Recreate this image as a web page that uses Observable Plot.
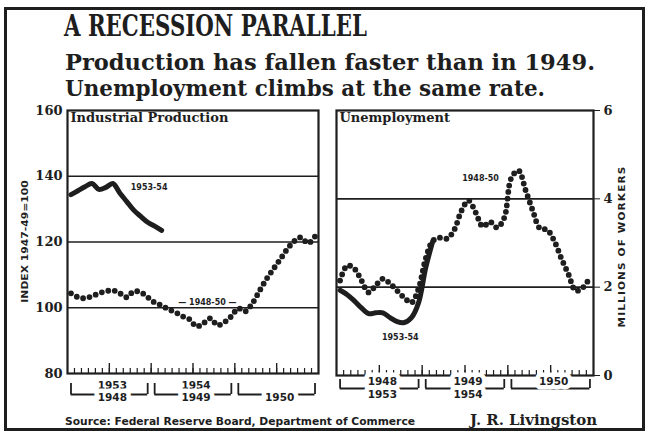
<!DOCTYPE html>
<html><head><meta charset="utf-8">
<script src="https://cdn.jsdelivr.net/npm/d3@7"></script>
<script src="https://cdn.jsdelivr.net/npm/@observablehq/plot@0.6"></script>
<style>
html,body{margin:0;padding:0;background:#fff;}
#wrap{position:relative;width:648px;height:435px;overflow:hidden;background:#fff;color:#1e1e1e;font-family:"DejaVu Serif",serif;}
.abs{position:absolute;white-space:nowrap;line-height:1;transform-origin:0 0;}
#border{position:absolute;left:4px;top:7px;width:641px;height:424px;border:3px solid #1e1e1e;box-sizing:border-box;}
.panel{position:absolute;top:95px;}
</style></head>
<body><div id="wrap">
<div id="border"></div>
<div class="abs" id="title" style="left:64px;top:11px;font-size:30px;font-weight:bold;">A RECESSION PARALLEL</div>
<div class="abs" id="sub1" style="left:65px;top:51px;font-size:22px;font-weight:bold;">Production has fallen faster than in 1949.</div>
<div class="abs" id="sub2" style="left:65px;top:77px;font-size:22px;font-weight:bold;">Unemployment climbs at the same rate.</div>
<div class="panel" id="left" style="left:0px;"></div>
<div class="panel" id="right" style="left:320px;"></div>
<div class="abs" id="ylabL" style="font-family:'DejaVu Sans',sans-serif;font-size:9px;font-weight:bold;">INDEX 1947-49=100</div>
<div class="abs" id="ylabR" style="font-family:'DejaVu Sans',sans-serif;font-size:9px;font-weight:bold;letter-spacing:1px;">MILLIONS OF WORKERS</div>
<div class="abs" id="src" style="left:65px;top:417px;font-family:'DejaVu Sans',sans-serif;font-size:10px;font-weight:bold;">Source: Federal Reserve Board, Department of Commerce</div>
<div class="abs" id="auth" style="left:470px;top:413px;font-size:14px;font-weight:bold;">J. R. Livingston</div>
</div>
<script>
// ---- data ----
const yearIdx = [0, 1, 2];
const prodTopLabels = ["1953", "1954", ""];
const prodBottomLabels = ["1948", "1949", "1950"];
const unempTopLabels = ["1948", "1949", "1950"];
const unempBottomLabels = ["1953", "1954", ""];
const prodTicks = [80, 100, 120, 140, 160];
const prodGrid = [100, 120, 140];
const unempTicks = [0, 2, 4, 6];
const unempGrid = [2, 4];
// Industrial production index, 1947-49=100 (monthly)
const prod5354 = [134.4, 135.6, 136.8, 137.8, 136.0, 136.6, 137.8, 134.9, 132.3, 129.7, 127.8, 126.0, 124.8, 123.5];
const prod4850 = [104.4, 103.2, 102.9, 103.5, 104.4, 105.0, 105.3, 104.4, 103.2, 105.0, 104.7, 103.2,
                  101.6, 100.7, 99.5, 98.6, 97.4, 96.5, 94.3, 95.3, 96.8, 94.7, 95.6, 97.4,
                  99.8, 98.9, 101.3, 105.0, 108.6, 111.7, 114.7, 117.8, 120.2, 121.4, 119.6, 121.7];
// Unemployment, millions of workers (monthly)
const unemp5354 = [1.93, 1.83, 1.69, 1.53, 1.40, 1.42, 1.42, 1.31, 1.22, 1.20, 1.31, 1.65, 2.44, 3.05];
const unemp4850 = [2.15, 2.49, 2.42, 2.15, 1.88, 2.04, 2.19, 2.08, 1.92, 1.76, 1.65, 1.97,
                   2.65, 3.05, 3.12, 3.10, 3.30, 3.73, 3.96, 3.69, 3.37, 3.48, 3.35, 3.57,
                   4.48, 4.64, 4.19, 3.73, 3.33, 3.30, 3.05, 2.65, 2.29, 1.92, 1.99, 2.22];

const ink = "#1e1e1e";
const toPts = arr => arr.map((v, i) => ({m: i + 0.5, v}));
const minorTicks = d3.range(1, 36);
const majorTicks = [6, 12, 18, 24, 30];
const bracketEnds = yearIdx.flatMap(i => [12 * i + 0.5, 12 * i + 11.5]);
const yearFont = {fontFamily: "DejaVu Sans, sans-serif", fontSize: 10.5, fontWeight: "bold"};

function yearLabels(labels, dy, dx) {
  const idx = yearIdx.filter(i => labels[i]);
  const base = {x: d => 12 * d + 6, frameAnchor: "bottom", text: d => labels[d], dy, dx, ...yearFont};
  return [
    Plot.text(idx, {...base, fill: "white", stroke: "white", strokeWidth: 9}),
    Plot.text(idx, {...base, fill: ink})
  ];
}

function panel(opts) {
  const {width, height, mt, mb, ml, mr, domain, ticks, grid, axis, tickSize, tickPadding,
         s5354, s4850, title, topLabels, bottomLabels, lab1, lab2, yTop, yBot, yBr, brTop, dxLab} = opts;
  const plotH = height - mt - mb;
  const d1 = toPts(s5354), d2 = toPts(s4850);
  return Plot.plot({
    width, height, marginTop: mt, marginBottom: mb, marginLeft: ml, marginRight: mr,
    style: {background: "transparent", color: ink, fontFamily: "DejaVu Serif, serif", fontSize: "13px", fontWeight: "bold", overflow: "visible"},
    x: {domain: [0, 36], axis: null},
    y: {domain, ticks, axis, tickSize, tickPadding, tickFormat: d => String(d), label: null},
    marks: [
      Plot.ruleY(grid, {stroke: ink, strokeWidth: 1.6}),
      Plot.tickX(minorTicks, {x: d => d, stroke: ink, strokeWidth: 1.2, insetTop: plotH - 5}),
      Plot.tickX(majorTicks, {x: d => d, stroke: ink, strokeWidth: 1.4, insetTop: plotH - 10}),
      Plot.line(d2, {x: "m", y: "v", curve: "catmull-rom", stroke: ink, strokeWidth: 5.8, strokeDasharray: "0 6.6", strokeLinecap: "round"}),
      Plot.line(d1, {x: "m", y: "v", curve: "catmull-rom", stroke: ink, strokeWidth: 5, strokeLinecap: "round", strokeLinejoin: "round"}),
      Plot.frame({stroke: ink, strokeWidth: 2.2}),
      Plot.text([title], {frameAnchor: "top-left", dx: 3, dy: 2, lineAnchor: "top", textAnchor: "start", fontSize: 13, fontWeight: "bold", fill: ink}),
      Plot.text([lab1.pt], {x: "m", y: "v", text: () => lab1.text, dx: lab1.dx, dy: lab1.dy, textAnchor: lab1.anchor,
        fontFamily: "DejaVu Sans, sans-serif", fontSize: 8, fontWeight: "bold", fill: ink, stroke: "white", strokeWidth: 3}),
      Plot.text([lab2.pt], {x: "m", y: "v", text: () => lab2.text, dx: lab2.dx, dy: lab2.dy, textAnchor: lab2.anchor,
        fontFamily: "DejaVu Sans, sans-serif", fontSize: 8, fontWeight: "bold", fill: ink, stroke: "white", strokeWidth: 3}),
      // year brackets below the frame
      Plot.ruleX(bracketEnds, {x: d => d, stroke: ink, strokeWidth: 1.8, insetTop: plotH + brTop, insetBottom: -yBr}),
      Plot.ruleY(yearIdx, {y: () => domain[0], x1: d => 12 * d + 0.5, x2: d => 12 * d + 11.5, dy: yBr, stroke: ink, strokeWidth: 1.8}),
      ...yearLabels(topLabels, yTop, dxLab),
      ...yearLabels(bottomLabels, yBot, dxLab)
    ]
  });
}

const pd1 = toPts(prod5354), pd2 = toPts(prod4850), ud1 = toPts(unemp5354), ud2 = toPts(unemp4850);

document.getElementById("left").append(panel({
  width: 335, height: 320, mt: 15, mb: 42, ml: 67, mr: 17,
  domain: [80, 160], ticks: prodTicks, grid: prodGrid, axis: "left", tickSize: 0, tickPadding: 5,
  s5354: prod5354, s4850: prod4850, title: "Industrial Production",
  topLabels: prodTopLabels, bottomLabels: prodBottomLabels,
  lab1: {pt: pd1[8], text: "1953-54", dx: 4, dy: -14, anchor: "start"},
  lab2: {pt: pd2[20], text: "— 1948-50 —", dx: -3, dy: -16, anchor: "middle"},
  yTop: 15, yBot: 27.5, yBr: 21, brTop: 10, dxLab: 3
}));

document.getElementById("right").append(panel({
  width: 328, height: 320, mt: 15, mb: 40, ml: 16, mr: 55,
  domain: [0, 6], ticks: unempTicks, grid: unempGrid, axis: "right", tickSize: 6, tickPadding: 4,
  s5354: unemp5354, s4850: unemp4850, title: "Unemployment",
  topLabels: unempTopLabels, bottomLabels: unempBottomLabels,
  lab1: {pt: ud1[9], text: "1953-54", dx: -4, dy: 15, anchor: "middle"},
  lab2: {pt: ud2[18], text: "1948-50", dx: 12, dy: -22, anchor: "middle"},
  yTop: 9.5, yBot: 22, yBr: 13, brTop: 4, dxLab: 3
}));

// ---- fit the HTML texts to the reference widths ----
function fit(id, w) {
  const el = document.getElementById(id);
  const r = el.getBoundingClientRect().width;
  el.style.transform = `scaleX(${w / r})`;
}
function rot(id, cx, cy, len, deg) {
  const el = document.getElementById(id);
  const w = el.offsetWidth, h = el.offsetHeight;
  el.style.left = (cx - w / 2) + "px";
  el.style.top = (cy - h / 2) + "px";
  el.style.transformOrigin = "50% 50%";
  el.style.transform = `rotate(${deg}deg) scaleX(${len / w})`;
}
fit("title", 303);
fit("sub1", 530);
fit("sub2", 480);
fit("src", 350);
fit("auth", 127);
rot("ylabL", 25, 241, 122, -90);
rot("ylabR", 622, 246, 162, -90);
</script>
</body></html>
